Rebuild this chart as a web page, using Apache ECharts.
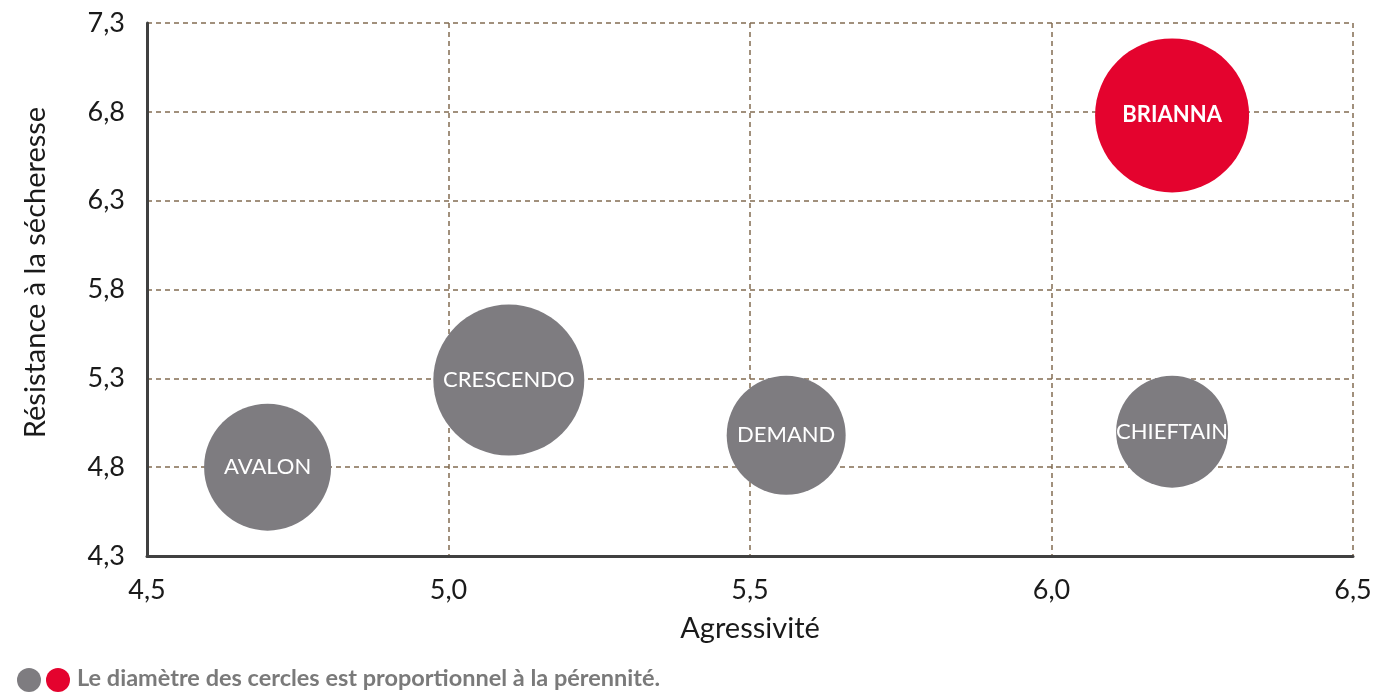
<!DOCTYPE html>
<html>
<head>
<meta charset="utf-8">
<script src="https://cdn.jsdelivr.net/npm/echarts@6/dist/echarts.min.js"></script>
<style>
  html, body { margin: 0; padding: 0; background: #fff; }
  #chart { width: 1380px; height: 696px; }
</style>
</head>
<body>
<div id="chart"></div>
<script>
// variétés et valeurs
var varietes = ['AVALON', 'CRESCENDO', 'DEMAND', 'CHIEFTAIN', 'BRIANNA'];
var agressivite = [4.70, 5.10, 5.56, 6.20, 6.20];
var secheresse = [4.80, 5.29, 4.98, 5.00, 6.78];
var perennite = [6.35, 7.55, 5.95, 5.6, 7.7];
var vedette = 'BRIANNA';

var GRIS = '#7e7c80';
var ROUGE = '#e4032e';
var FONT = 'Lato';

var data = [];
for (var i = 0; i < varietes.length; i++) {
    data.push({
        name: varietes[i],
        value: [agressivite[i], secheresse[i], perennite[i]],
        itemStyle: { color: varietes[i] === vedette ? ROUGE : GRIS, opacity: 1 },
        label: { fontWeight: varietes[i] === vedette ? 'bold' : 'normal' }
    });
}

function virgule(v) {
    return v.toFixed(1).replace('.', ',');
}

var grille = {
    show: true,
    lineStyle: { color: '#836c52', type: [5, 4], width: 1.5 }
};

var myChart = echarts.init(document.getElementById('chart'));
var option = {
    animation: false,
    textStyle: { fontFamily: FONT },
    grid: { left: 147, right: 27, top: 23, bottom: 140 },
    xAxis: {
        type: 'value',
        min: 4.5,
        max: 6.5,
        interval: 0.5,
        name: 'Agressivité',
        nameLocation: 'middle',
        nameGap: 58,
        nameTextStyle: { fontSize: 29, color: '#1a1a1a', fontFamily: FONT },
        axisLine: { show: true, onZero: false, lineStyle: { color: '#404040', width: 3 } },
        axisTick: { show: false },
        axisLabel: { fontSize: 27, color: '#1a1a1a', margin: 21, formatter: virgule },
        splitLine: grille
    },
    yAxis: {
        type: 'value',
        min: 4.3,
        max: 7.3,
        interval: 0.5,
        name: 'Résistance à la sécheresse',
        nameLocation: 'middle',
        nameGap: 97,
        nameTextStyle: { fontSize: 29, color: '#1a1a1a', fontFamily: FONT, padding: [0, 0, 0, 34] },
        axisLine: { show: true, onZero: false, lineStyle: { color: '#404040', width: 3 } },
        axisTick: { show: false },
        axisLabel: { fontSize: 27, color: '#1a1a1a', margin: 22, formatter: virgule },
        splitLine: grille
    },
    series: [{
        type: 'scatter',
        data: data,
        symbol: 'circle',
        symbolSize: function (val) { return val[2] * 20; },
        itemStyle: { opacity: 1 },
        label: {
            show: true,
            position: 'inside',
            formatter: '{b}',
            color: '#fff',
            fontSize: 22,
            fontFamily: FONT
        },
        emphasis: { disabled: true }
    }],
    graphic: [
        { type: 'circle', shape: { cx: 29, cy: 680, r: 12 }, style: { fill: GRIS } },
        { type: 'circle', shape: { cx: 58, cy: 680, r: 12 }, style: { fill: ROUGE } },
        {
            type: 'text', left: 77, top: 666,
            style: {
                text: 'Le diamètre des cercles est proportionnel à la pérennité.',
                fill: '#7a7a7a', font: 'bold 23.5px ' + FONT
            }
        }
    ]
};
myChart.setOption(option);
</script>
</body>
</html>
